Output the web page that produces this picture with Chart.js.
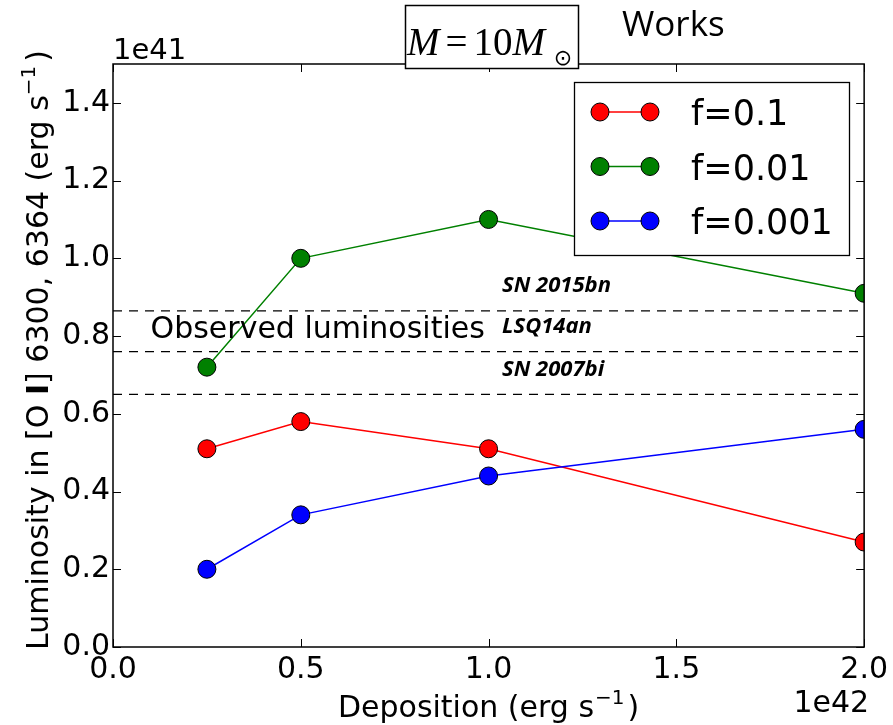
<!DOCTYPE html>
<html><head><meta charset="utf-8">
<script src="https://cdn.jsdelivr.net/npm/chart.js@4/dist/chart.umd.min.js"></script>
<style>html,body{margin:0;padding:0;background:#fff;}canvas{display:block;}</style>
</head><body>
<canvas id="c" width="893" height="725"></canvas>
<script>
// ---- data ----
const deposition = [0.25, 0.5, 1.0, 2.0];           // 1e42 erg/s
const lumF01   = [0.51, 0.58, 0.51, 0.27];          // f=0.1  (1e41 erg/s)
const lumF001  = [0.72, 1.00, 1.10, 0.91];          // f=0.01
const lumF0001 = [0.20, 0.34, 0.44, 0.56];          // f=0.001
const seriesNames = ['f=0.1', 'f=0.01', 'f=0.001'];
const observedNames = ['SN 2015bn', 'LSQ14an', 'SN 2007bi'];
const observedLum = [0.865, 0.76, 0.65];
const xTicks = [0, 0.5, 1.0, 1.5, 2.0];
const yTicks = [0, 0.2, 0.4, 0.6, 0.8, 1.0, 1.2, 1.4];

const colors = ['#ff0000', '#008000', '#0000ff'];
const mk = (xs, ys) => xs.map((x, i) => ({x, y: ys[i]}));
const seriesData = [lumF01, lumF001, lumF0001];

const datasets = [];
observedLum.forEach((v, i) => datasets.push({
  label: observedNames[i], data: [{x: 0, y: v}, {x: 2, y: v}],
  borderColor: '#000', borderWidth: 1.3, borderDash: [9, 7], pointRadius: 0, order: 10
}));
seriesData.forEach((s, i) => datasets.push({
  label: seriesNames[i], data: mk(deposition, s),
  borderColor: colors[i], backgroundColor: colors[i], borderWidth: 1.5,
  pointRadius: 9, pointBorderColor: '#000', pointBorderWidth: 1, pointBackgroundColor: colors[i], order: 3 - i
}));

const SANS = '"DejaVu Sans", sans-serif';
const SER = '"Liberation Serif", "DejaVu Serif", serif';

const deco = {
  id: 'deco',
  afterDraw(chart) {
    const ctx = chart.ctx, a = chart.chartArea, xs = chart.scales.x, ys = chart.scales.y;
    ctx.save();
    // frame
    ctx.strokeStyle = '#000'; ctx.lineWidth = 1.5;
    ctx.strokeRect(a.left, a.top, a.right - a.left, a.bottom - a.top);
    // inside ticks
    ctx.lineWidth = 1;
    const tl = 8;
    xTicks.forEach(v => { const p = Math.round(xs.getPixelForValue(v)) + 0.5;
      ctx.beginPath(); ctx.moveTo(p, a.bottom); ctx.lineTo(p, a.bottom - tl);
      ctx.moveTo(p, a.top); ctx.lineTo(p, a.top + tl); ctx.stroke(); });
    yTicks.forEach(v => { const p = Math.round(ys.getPixelForValue(v)) + 0.5;
      ctx.beginPath(); ctx.moveTo(a.left, p); ctx.lineTo(a.left + tl, p);
      ctx.moveTo(a.right, p); ctx.lineTo(a.right - tl, p); ctx.stroke(); });
    ctx.fillStyle = '#000';
    // offset labels
    ctx.font = '29px ' + SANS; ctx.textAlign = 'left'; ctx.textBaseline = 'alphabetic';
    ctx.fillText('1e41', a.left, 59);
    ctx.font = '30px ' + SANS; ctx.textAlign = 'right';
    ctx.fillText('1e42', a.right + 5, 712);
    // observed labels
    ctx.font = 'italic bold 22px "Open Sans", sans-serif'; ctx.textAlign = 'left';
    ctx.textBaseline = 'middle';
    const lx = xs.getPixelForValue(1.036);
    observedLum.forEach((v, i) => {
      ctx.fillText(observedNames[i], lx, ys.getPixelForValue(v) - 25);
    });
    ctx.font = '30px ' + SANS; ctx.textBaseline = 'alphabetic';
    ctx.fillText('Observed luminosities', xs.getPixelForValue(0.1), ys.getPixelForValue(observedLum[1]) - 14);
    // legend
    const L = {x: 574, y: 82, w: 275, h: 173};
    ctx.fillStyle = '#fff'; ctx.fillRect(L.x, L.y, L.w, L.h);
    ctx.strokeStyle = '#000'; ctx.lineWidth = 1.3; ctx.strokeRect(L.x + 0.5, L.y + 0.5, L.w, L.h);
    ctx.font = '35px ' + SANS; ctx.textBaseline = 'alphabetic'; ctx.textAlign = 'left';
    seriesNames.forEach((n, i) => {
      const y = 112 + i * 54.5;
      ctx.strokeStyle = colors[i]; ctx.lineWidth = 1.5;
      ctx.beginPath(); ctx.moveTo(600, y); ctx.lineTo(650, y); ctx.stroke();
      [600, 650].forEach(px => { ctx.beginPath(); ctx.arc(px, y, 9, 0, Math.PI * 2);
        ctx.fillStyle = colors[i]; ctx.fill(); ctx.strokeStyle = '#000'; ctx.lineWidth = 1; ctx.stroke(); });
      ctx.fillStyle = '#000'; ctx.fillText(n, 691, y + 13);
    });
    // title box
    ctx.fillStyle = '#fff'; ctx.fillRect(405, 5, 174, 64);
    ctx.strokeStyle = '#000'; ctx.lineWidth = 1.5; ctx.strokeRect(405.5, 5.5, 173, 63);
    ctx.fillStyle = '#000'; ctx.textBaseline = 'alphabetic'; ctx.textAlign = 'left';
    let tx = 407; const tb = 55;
    const piece = (t, f, gap) => { ctx.font = f; ctx.fillText(t, tx, tb); tx += ctx.measureText(t).width + (gap || 0); };
    piece('M', 'italic 39px ' + SER, 6);
    piece('=', '39px ' + SER, 6);
    piece('10', '39px ' + SER, 0);
    piece('M', 'italic 39px ' + SER, 0);
    ctx.font = '22px ' + SANS; ctx.textAlign = 'center'; ctx.textBaseline = 'middle';
    ctx.fillText('\u2299', 563, 59);
    // Works
    ctx.textAlign = 'left'; ctx.textBaseline = 'alphabetic';
    ctx.font = '35px "Open Sans", sans-serif'; ctx.fillText('Works', 622, 36);
    // x title
    const xt1 = 'Deposition (erg s', xsup = '\u22121', xt2 = ')';
    ctx.font = '30px ' + SANS; const w1 = ctx.measureText(xt1).width, w3 = ctx.measureText(xt2).width;
    ctx.font = '20px ' + SANS; const w2 = ctx.measureText(xsup).width;
    let sx = (a.left + a.right) / 2 - (w1 + w2 + w3 + 4) / 2;
    ctx.font = '30px ' + SANS; ctx.fillText(xt1, sx, 717); sx += w1 + 1;
    ctx.font = '20px ' + SANS; ctx.fillText(xsup, sx, 704); sx += w2 + 3;
    ctx.font = '30px ' + SANS; ctx.fillText(xt2, sx, 717);
    // y title
    ctx.save();
    ctx.translate(48, 350); ctx.rotate(-Math.PI / 2);
    const parts = [['Luminosity in [O ', '30px ' + SANS, 0], ['I', 'bold 30px ' + SANS, 0],
      ['] 6300, 6364 (erg s', '30px ' + SANS, 0], ['\u22121', '20px ' + SANS, -13], [')', '30px ' + SANS, 0]];
    let tot = 0; parts.forEach(p => { ctx.font = p[1]; p.push(ctx.measureText(p[0]).width); tot += p[3] + (p[2] ? 4 : 0); });
    let px = -tot / 2;
    parts.forEach(p => { ctx.font = p[1]; ctx.fillText(p[0], px, p[2]); px += p[3] + (p[2] ? 4 : 0); });
    ctx.restore();
    ctx.restore();
  }
};

new Chart(document.getElementById('c'), {
  type: 'line',
  data: {datasets},
  options: {
    responsive: false, animation: false,
    layout: {padding: {top: 64, right: 27, left: 0, bottom: 0}},
    plugins: {legend: {display: false}, tooltip: {enabled: false}},
    scales: {
      x: {type: 'linear', min: 0, max: 2, border: {display: false},
        grid: {display: false, drawTicks: false},
        afterBuildTicks: s => { s.ticks = xTicks.map(v => ({value: v})); },
        afterFit: s => { s.height = 78; },
        ticks: {padding: 5, color: '#000', font: {family: SANS, size: 30}, callback: v => Number(v).toFixed(1), maxRotation: 0}},
      y: {type: 'linear', min: 0, max: 1.5, border: {display: false},
        grid: {display: false, drawTicks: false},
        afterBuildTicks: s => { s.ticks = yTicks.map(v => ({value: v})); },
        afterFit: s => { s.width = 113; },
        ticks: {padding: 3, color: '#000', font: {family: SANS, size: 30}, callback: v => Number(v).toFixed(1)}}
    }
  },
  plugins: [deco]
});
</script>
</body></html>
